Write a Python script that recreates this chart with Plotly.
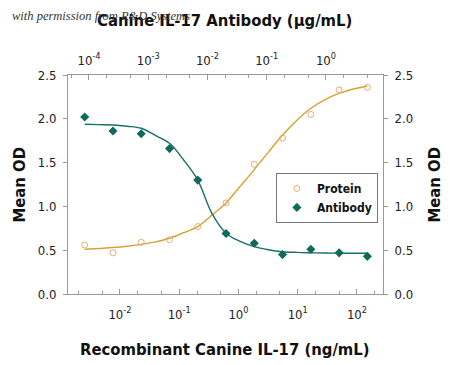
import plotly.graph_objects as go

# ---- data ----
protein_conc = [0.00254, 0.00762, 0.0229, 0.0686, 0.206, 0.617, 1.85, 5.56, 16.7, 50, 150]  # ng/mL
protein_od = [0.56, 0.47, 0.59, 0.62, 0.77, 1.04, 1.48, 1.78, 2.05, 2.33, 2.36]
antibody_conc = [0.0000847, 0.000254, 0.000762, 0.00229, 0.00686, 0.0206, 0.0617, 0.185, 0.556, 1.67, 5.0]  # ug/mL
antibody_od = [2.02, 1.86, 1.83, 1.66, 1.30, 0.69, 0.58, 0.45, 0.51, 0.47, 0.43]

# fitted curves (half-step grid)
protein_fit_conc = [0.00254, 0.0044, 0.00762, 0.0132, 0.0229, 0.0396, 0.0686, 0.119, 0.206, 0.356,
                    0.617, 1.07, 1.85, 3.21, 5.56, 9.62, 16.7, 28.9, 50, 86.6, 150]
protein_fit_od = [0.51, 0.52, 0.53, 0.545, 0.567, 0.595, 0.636, 0.70, 0.77, 0.90,
                  1.04, 1.23, 1.42, 1.62, 1.815, 1.98, 2.12, 2.22, 2.29, 2.34, 2.375]
antibody_fit_conc = [0.0000847, 0.000147, 0.000254, 0.00044, 0.000762, 0.00132, 0.00229, 0.00396,
                     0.00686, 0.0119, 0.0206, 0.0356, 0.0617, 0.107, 0.185, 0.321, 0.556, 0.962,
                     1.67, 2.89, 5.0]
antibody_fit_od = [1.937, 1.933, 1.929, 1.915, 1.892, 1.81, 1.72, 1.53, 1.30, 0.92,
                   0.693, 0.60, 0.54, 0.505, 0.483, 0.475, 0.471, 0.468, 0.466, 0.465, 0.465]

bottom_tickvals = [0.01, 0.1, 1, 10, 100]
bottom_ticktext = ["10<sup>-2</sup>", "10<sup>-1</sup>", "10<sup>0</sup>", "10<sup>1</sup>", "10<sup>2</sup>"]
top_tickvals = [0.0001, 0.001, 0.01, 0.1, 1]
top_ticktext = ["10<sup>-4</sup>", "10<sup>-3</sup>", "10<sup>-2</sup>", "10<sup>-1</sup>", "10<sup>0</sup>"]
y_tickvals = [0, 0.5, 1.0, 1.5, 2.0, 2.5]
y_ticktext = ["0.0", "0.5", "1.0", "1.5", "2.0", "2.5"]

ORANGE = "#D9A035"
ORANGE_MK = "#E2B072"
TEAL = "#1B6F66"
TEAL_MK = "#0F6A5C"
AXC = "#9a9a9a"
FONT = "DejaVu Sans Condensed, Liberation Sans Narrow, Roboto, sans-serif"
TICKFONT = dict(family=FONT, size=13, color="#222")

fig = go.Figure()
fig.add_trace(go.Scatter(x=protein_fit_conc, y=protein_fit_od, mode="lines",
                         line=dict(color=ORANGE, width=1.4, shape="spline"),
                         showlegend=False, hoverinfo="skip"))
fig.add_trace(go.Scatter(x=antibody_fit_conc, y=antibody_fit_od, mode="lines",
                         xaxis="x2", yaxis="y2",
                         line=dict(color=TEAL, width=1.4, shape="spline"),
                         showlegend=False, hoverinfo="skip"))
fig.add_trace(go.Scatter(x=protein_conc, y=protein_od, mode="markers", name="Protein",
                         marker=dict(symbol="circle-open", size=6, color=ORANGE_MK,
                                     line=dict(width=1, color=ORANGE_MK))))
fig.add_trace(go.Scatter(x=antibody_conc, y=antibody_od, mode="markers", name="Antibody",
                         xaxis="x2", yaxis="y2",
                         marker=dict(symbol="diamond", size=7, color=TEAL_MK)))

common_x = dict(type="log", showline=True, linecolor=AXC, linewidth=1, showgrid=False,
                zeroline=False, ticks="inside", ticklen=5, tickcolor=AXC, automargin=False,
                tickfont=TICKFONT,
                minor=dict(ticks="inside", ticklen=3, tickcolor=AXC))
common_y = dict(range=[0, 2.5], tickvals=y_tickvals, ticktext=y_ticktext, showline=True,
                linecolor=AXC, linewidth=1, showgrid=False, zeroline=False, ticks="outside",
                ticklen=4, tickcolor=AXC, automargin=False, tickfont=TICKFONT)
# page body has an 8px margin, so the figure is 8px smaller and shifted accordingly
fig.update_layout(
    width=442, height=357,
    margin=dict(l=60, r=67, t=67, b=71),
    paper_bgcolor="white", plot_bgcolor="white",
    xaxis=dict(range=[-2.877, 2.44], tickvals=bottom_tickvals, ticktext=bottom_ticktext,
               ticklabelstandoff=8, **common_x),
    xaxis2=dict(range=[-4.354, 0.963], overlaying="x", side="top", anchor="y",
                tickvals=top_tickvals, ticktext=top_ticktext, ticklabelstandoff=4, **common_x),
    yaxis=dict(ticklabelstandoff=4, **common_y),
    yaxis2=dict(overlaying="y", side="right", anchor="x", ticklabelstandoff=4, **common_y),
    legend=dict(x=0.66, y=0.553, xanchor="left", yanchor="top", bordercolor="#777",
                borderwidth=1, bgcolor="white", itemwidth=30,
                font=dict(family=FONT, size=12, color="#111", weight="bold"),
                tracegroupgap=0),
    showlegend=True,
)

TITLEFONT = dict(family=FONT, size=16.5, color="#111", weight="bold")
fig.add_annotation(text="Canine IL-17 Antibody (\u03bcg/mL)", xref="paper", yref="paper",
                   x=0.497, y=1 + (75 - 21) / 219.0, xanchor="center", yanchor="middle",
                   showarrow=False, font=TITLEFONT)
fig.add_annotation(text="Recombinant Canine IL-17 (ng/mL)", xref="paper", yref="paper",
                   x=0.497, y=-(349 - 294) / 219.0, xanchor="center", yanchor="middle",
                   showarrow=False, font=TITLEFONT)
fig.add_annotation(text="Mean OD", xref="paper", yref="paper", textangle=-90,
                   x=-(68 - 19) / 315.0, y=0.5, xanchor="center", yanchor="middle",
                   showarrow=False, font=TITLEFONT)
fig.add_annotation(text="Mean OD", xref="paper", yref="paper", textangle=-90,
                   x=1 + (434 - 383) / 315.0, y=0.5, xanchor="center", yanchor="middle",
                   showarrow=False, font=TITLEFONT)
fig.add_annotation(text="<i>with permission from R&D Systems</i>", xref="paper", yref="paper",
                   x=-(68 - 10) / 315.0, y=1 + (75 - 16) / 219.0, xanchor="left", yanchor="middle",
                   showarrow=False, font=dict(family="Liberation Serif, DejaVu Serif, serif", size=12.5, color="#333"))

fig.write_html("out.html")
